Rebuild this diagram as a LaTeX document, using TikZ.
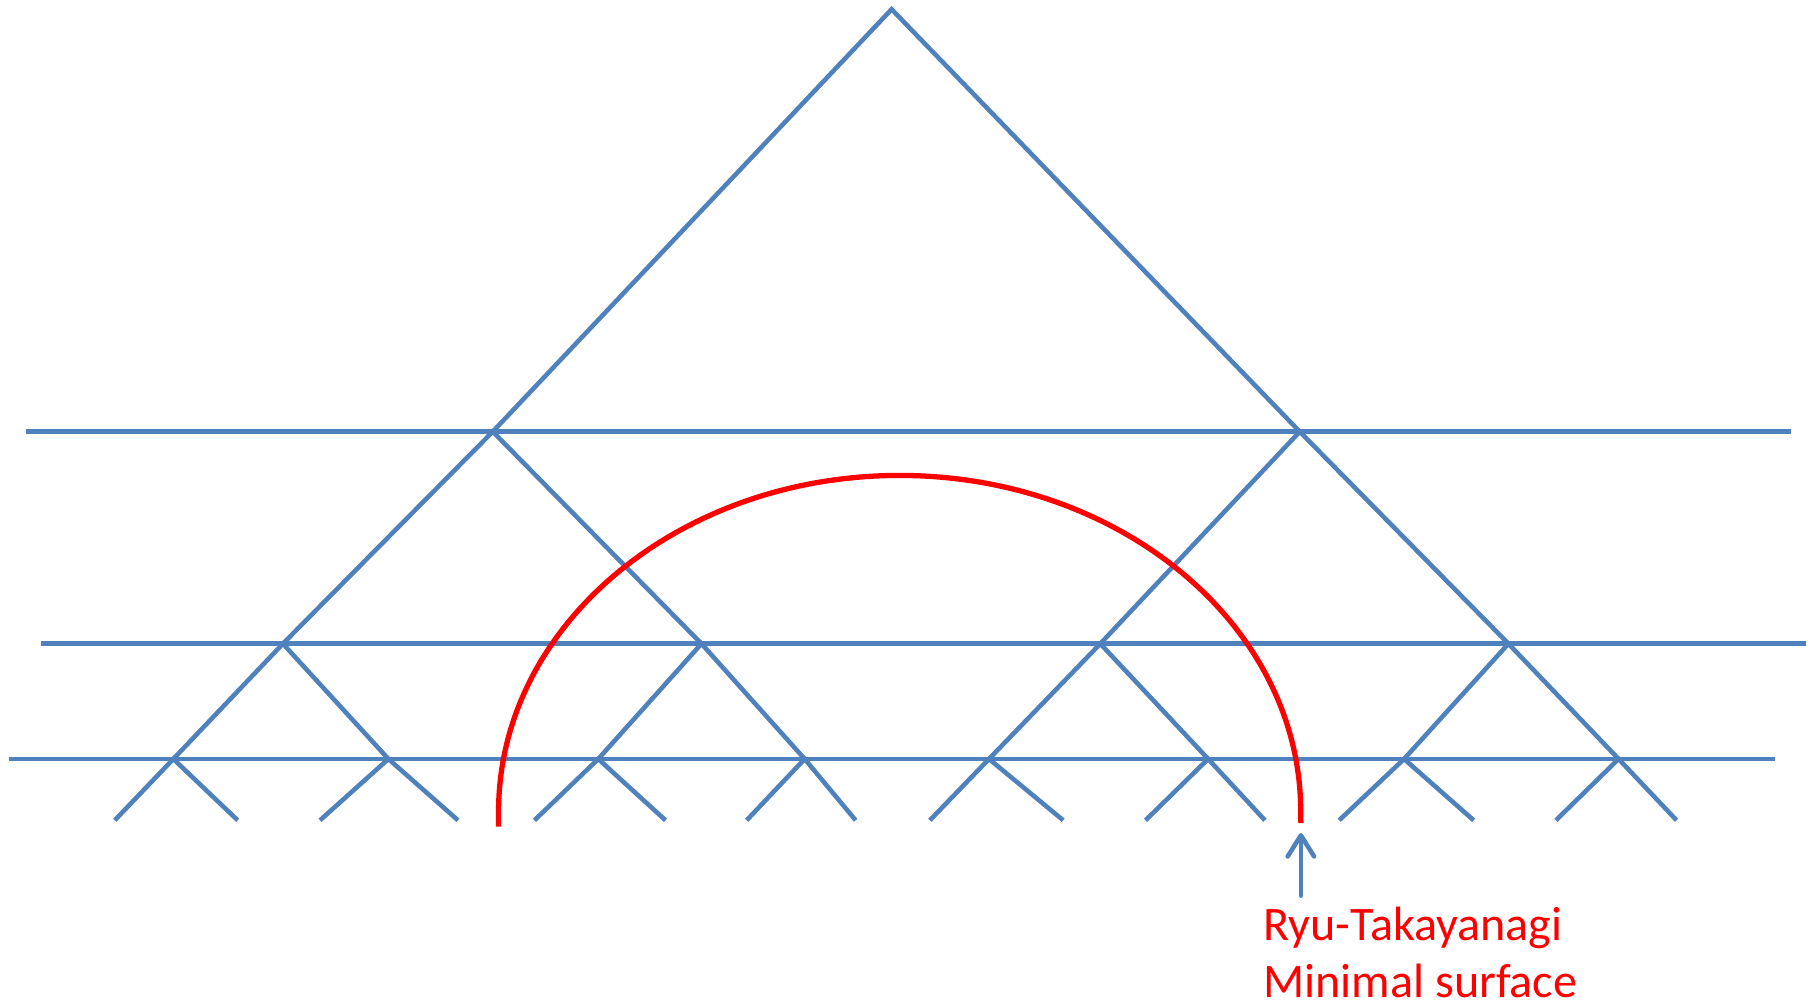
\documentclass[tikz,border=0pt]{standalone}
\usepackage{fontspec}
\setmainfont{Carlito}
\usetikzlibrary{arrows.meta}
\definecolor{netblue}{HTML}{4F81BD}
\definecolor{rtred}{HTML}{FF0000}

\begin{document}
\begin{tikzpicture}[
  x=0.011594cm, y=-0.011594cm,
  leg/.style={draw=netblue, line width=1.3pt},
  cut/.style={draw=netblue, line width=1.3pt},
  geodesic/.style={draw=rtred, line width=1.5pt},
  pointer/.style={-{Straight Barb[length=6pt,width=7.5pt,round]}, draw=netblue,
                  line width=1.3pt, line cap=round},
  caption/.style={text=rtred, font=\fontsize{13.7}{16.2}\selectfont,
                  align=left, inner sep=0pt}
]
\useasboundingbox (0,0) rectangle (1568,866);

% ── tree vertices ────────────────────────────────────────────────────────────
\coordinate (top) at (769,8);
\coordinate (a1) at (425,372.3);  \coordinate (a2) at (1121,372.3);
\coordinate (b1) at (244,555.2);  \coordinate (b2) at (605,555.2);
\coordinate (b3) at (949,555.2);  \coordinate (b4) at (1301,555.2);
\coordinate (c1) at (149.5,654.6); \coordinate (c2) at (335,654.6);
\coordinate (c3) at (516,654.6);   \coordinate (c4) at (694,654.6);
\coordinate (c5) at (853,654.6);   \coordinate (c6) at (1042,654.6);
\coordinate (c7) at (1211,654.6);  \coordinate (c8) at (1396,654.6);

% ── open legs at the boundary ────────────────────────────────────────────────
\coordinate (l1) at (99,707.5);   \coordinate (r1) at (205,707.5);
\coordinate (l2) at (276,707.5);  \coordinate (r2) at (395,707.5);
\coordinate (l3) at (461,707.5);  \coordinate (r3) at (574,707.5);
\coordinate (l4) at (644,707.5);  \coordinate (r4) at (738,707.5);
\coordinate (l5) at (802,707.5);  \coordinate (r5) at (917,707.5);
\coordinate (l6) at (988,707.5);  \coordinate (r6) at (1091,707.5);
\coordinate (l7) at (1155,707.5); \coordinate (r7) at (1271,707.5);
\coordinate (l8) at (1342,707.5); \coordinate (r8) at (1446,707.5);

% ── horizontal cuts ──────────────────────────────────────────────────────────
\draw[cut] (22,372.3) -- (1545,372.3);
\draw[cut] (35,555.2) -- (1558,555.2);
\draw[cut] (8,654.6) -- (1531,654.6);

% ── branches ─────────────────────────────────────────────────────────────────
\draw[leg] (a1) -- (top) -- (a2);
\draw[leg] (b1) -- (a1) -- (b2);
\draw[leg] (b3) -- (a2) -- (b4);
\draw[leg] (c1) -- (b1) -- (c2);
\draw[leg] (c3) -- (b2) -- (c4);
\draw[leg] (c5) -- (b3) -- (c6);
\draw[leg] (c7) -- (b4) -- (c8);
\draw[leg] (l1) -- (c1) -- (r1);
\draw[leg] (l2) -- (c2) -- (r2);
\draw[leg] (l3) -- (c3) -- (r3);
\draw[leg] (l4) -- (c4) -- (r4);
\draw[leg] (l5) -- (c5) -- (r5);
\draw[leg] (l6) -- (c6) -- (r6);
\draw[leg] (l7) -- (c7) -- (r7);
\draw[leg] (l8) -- (c8) -- (r8);

% ── minimal surface ──────────────────────────────────────────────────────────
\draw[geodesic] (430,713) -- (430,700)
  arc[start angle=180, end angle=0, x radius=4.0115cm, y radius=3.3623cm]
  -- (1122,710);

% ── label ────────────────────────────────────────────────────────────────────
\node[caption, anchor=base west] (rtlabel) at (1089,860) {Ryu-Takayanagi\\Minimal surface};
\coordinate (foot) at (1122,772.5);
\coordinate (tip) at (1122,718.5);
\draw[pointer] (foot) -- (tip);
\end{tikzpicture}
\end{document}
